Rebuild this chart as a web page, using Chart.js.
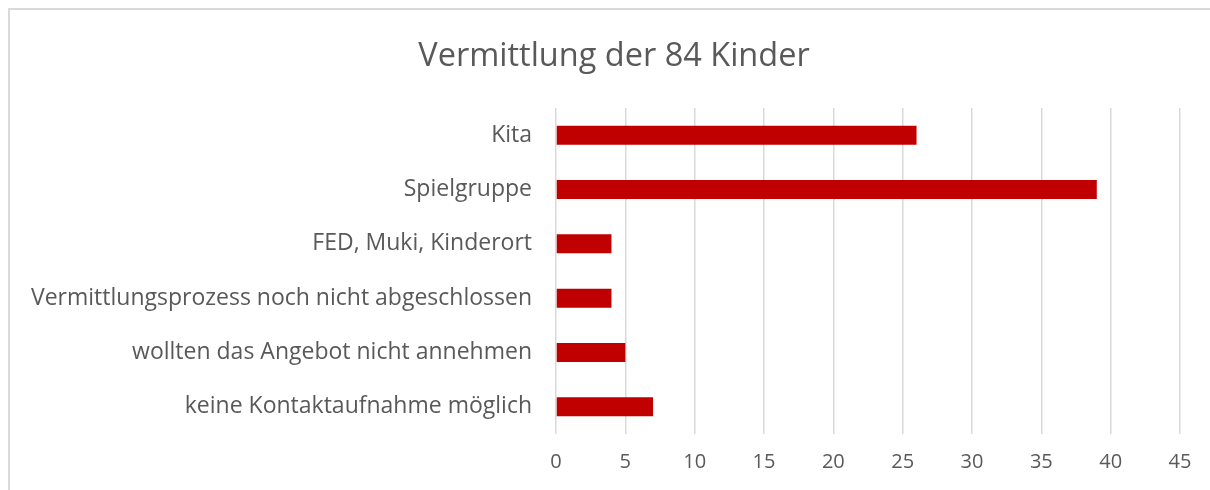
<!DOCTYPE html>
<html>
<head>
<meta charset="utf-8">
<script src="https://cdn.jsdelivr.net/npm/chart.js@4/dist/chart.umd.min.js"></script>
<style>
  html, body { margin: 0; padding: 0; background: #fff; }
  #wrap { position: relative; width: 1210px; height: 490px; overflow: hidden; }
  #frame { position: absolute; left: 8px; top: 8px; width: 1220px; height: 500px; border: 2px solid #d9d9d9; box-sizing: border-box; }
  #c { position: absolute; left: 0; top: 0; }
</style>
</head>
<body>
<div id="wrap">
  <div id="frame"></div>
  <canvas id="c" width="1210" height="490"></canvas>
</div>
<script>
const categories = [
  "Kita",
  "Spielgruppe",
  "FED, Muki, Kinderort",
  "Vermittlungsprozess noch nicht abgeschlossen",
  "wollten das Angebot nicht annehmen",
  "keine Kontaktaufnahme möglich"
];
const counts = [26, 39, 4, 4, 5, 7];
const xMin = 0;
const xMax = 45;
const xStep = 5;

const fontFamily = "'Open Sans', 'Noto Sans', sans-serif";

// title in the original sits a bit right of the canvas centre
const shiftTitle = {
  id: "shiftTitle",
  afterLayout(chart) {
    if (chart.titleBlock) chart.titleBlock.left += 40;
  }
};

const ctx = document.getElementById("c").getContext("2d");
new Chart(ctx, {
  type: "bar",
  data: {
    labels: categories,
    datasets: [{
      data: counts,
      backgroundColor: "#c00000",
      borderWidth: 0,
      barPercentage: 0.35,
      categoryPercentage: 1
    }]
  },
  options: {
    indexAxis: "y",
    responsive: false,
    animation: false,
    layout: { padding: { top: 37, right: 30, bottom: 0, left: 8 } },
    plugins: {
      legend: { display: false },
      tooltip: { enabled: false },
      title: {
        display: true,
        text: "Vermittlung der 84 Kinder",
        color: "#595959",
        font: { family: fontFamily, size: 32.5, weight: "normal" },
        padding: { top: 0, bottom: 32 }
      }
    },
    scales: {
      x: {
        min: xMin,
        max: xMax,
        ticks: {
          stepSize: xStep,
          color: "#595959",
          font: { family: fontFamily, size: 20 },
          padding: 16
        },
        grid: { color: "#d9d9d9", lineWidth: 1.5, drawTicks: false },
        border: { display: false }
      },
      y: {
        ticks: {
          color: "#595959",
          font: { family: fontFamily, size: 23 },
          padding: 24
        },
        grid: { display: false, drawTicks: false },
        border: { display: false },
        afterFit: function(scale) { scale.width = 548; }
      }
    }
  },
  plugins: [shiftTitle]
});
</script>
</body>
</html>
